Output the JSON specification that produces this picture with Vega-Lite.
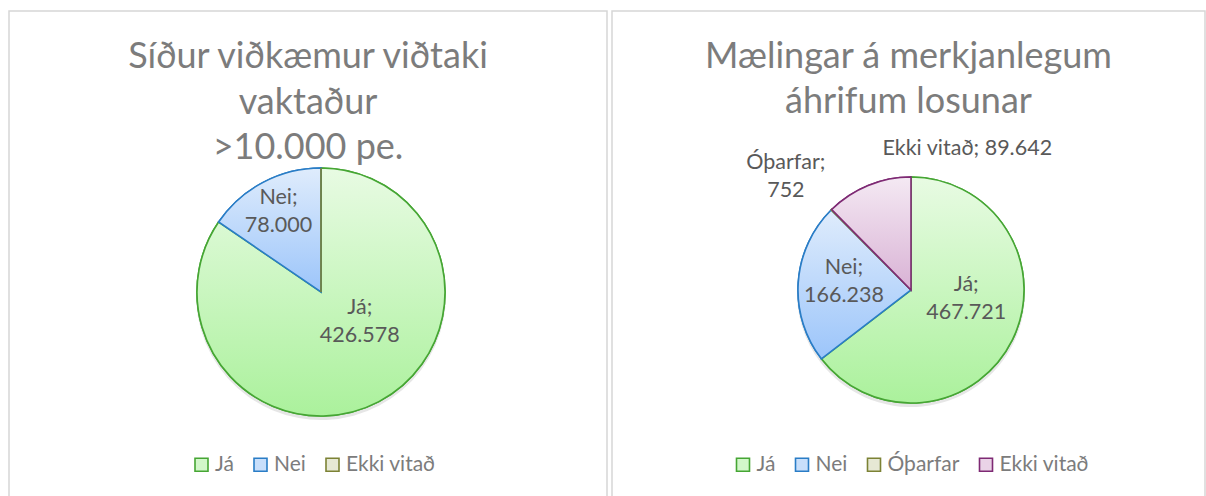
{
  "$schema": "https://vega.github.io/schema/vega-lite/v6.json",
  "padding": {"left": 8, "top": 10, "right": 0, "bottom": 0},
  "background": "#ffffff",
  "spacing": 5,
  "bounds": "flush",
  "config": {
    "view": {"stroke": "#d6d6d6", "strokeWidth": 1.5},
    "locale": {"number": {"decimal": ",", "thousands": ".", "grouping": [3], "currency": ["", " kr."]}},
    "legend": {"orient": "none", "legendY": 443, "direction": "horizontal", "title": null, "symbolType": "square", "symbolSize": 169, "symbolStrokeWidth": 1.6, "labelFont": "Lato", "labelFontSize": 21, "labelColor": "#7c7c7c", "labelOffset": 3, "columnPadding": 16, "padding": 0}
  },
  "resolve": {"scale": {"fill": "independent", "stroke": "independent", "theta": "independent"}, "legend": {"fill": "independent", "stroke": "independent"}},
  "hconcat": [
    {
      "width": 598,
      "height": 500,
      "view": {"stroke": "#d6d6d6", "strokeWidth": 1.5, "fill": "#ffffff"},
      "title": {"text": ["Síður viðkæmur viðtaki", "vaktaður", ">10.000 pe."], "anchor": "middle", "frame": "group", "offset": -184, "baseline": "alphabetic", "font": "Lato", "fontSize": 36, "fontWeight": "normal", "color": "#7c7c7c", "lineHeight": 45.5},
      "data": {"values": [
        {"k": "Já", "v": 426578},
        {"k": "Nei", "v": 78000},
        {"k": "Ekki vitað", "v": 0}
      ]},
      "transform": [
        {"window": [{"op": "row_number", "as": "i"}]},
        {"calculate": "datum.k === 'Ekki vitað' ? datum.k + '; ' + format(datum.v, ',') : [datum.k + ';', format(datum.v, ',')]", "as": "lab"}
      ],
      "layer": [
        {
          "mark": {"type": "arc", "outerRadius": 125, "xOffset": 13, "yOffset": 34, "fill": "#9a9a9a", "opacity": 0.25},
          "encoding": {
            "theta": {"field": "v", "type": "quantitative", "stack": true},
            "order": {"field": "i", "type": "quantitative"}
          }
        },
        {
          "mark": {"type": "arc", "outerRadius": 124, "xOffset": 13, "yOffset": 31, "strokeWidth": 1.6},
          "encoding": {
            "theta": {"field": "v", "type": "quantitative", "stack": true},
            "order": {"field": "i", "type": "quantitative"},
            "fill": {"field": "k", "type": "nominal",
              "scale": {"domain": ["Já", "Nei", "Ekki vitað"], "range": ["#d2f7ca", "#c8dffb", "#e6e8d4"]},
              "legend": {"legendX": 182}
            },
            "stroke": {"field": "k", "type": "nominal",
              "scale": {"domain": ["Já", "Nei", "Ekki vitað"], "range": ["#46a634", "#2a7dc6", "#7c8235"]},
              "legend": {"legendX": 182}
            }
          }
        },
        {
          "mark": {"type": "arc", "outerRadius": 124, "xOffset": 13, "yOffset": 31, "strokeWidth": 1.6},
          "encoding": {
            "theta": {"field": "v", "type": "quantitative", "stack": true},
            "order": {"field": "i", "type": "quantitative"},
            "fill": {
              "condition": [
                {"test": "datum.k === 'Já'", "value": {"gradient": "linear", "x1": 0, "y1": 0, "x2": 0, "y2": 1, "stops": [{"offset": 0, "color": "#e8fbe3"}, {"offset": 1, "color": "#abf19c"}]}},
                {"test": "datum.k === 'Nei'", "value": {"gradient": "linear", "x1": 0, "y1": 0, "x2": 0, "y2": 1, "stops": [{"offset": 0, "color": "#dfecfc"}, {"offset": 1, "color": "#9cc5fa"}]}}
              ],
              "value": {"gradient": "linear", "x1": 0, "y1": 0, "x2": 0, "y2": 1, "stops": [{"offset": 0, "color": "#eeefe2"}, {"offset": 1, "color": "#d8dbbd"}]}
            },
            "stroke": {"field": "k", "type": "nominal", "legend": null}
          }
        },
        {
          "mark": {"type": "text", "radius": 91, "thetaOffset": 0, "xOffset": 13, "yOffset": 31, "dy": -14, "font": "Lato", "fontSize": 21.5, "lineHeight": 28, "color": "#595959", "align": "center", "baseline": "middle"},
          "encoding": {
            "theta": {"field": "v", "type": "quantitative", "stack": true},
            "order": {"field": "i", "type": "quantitative"},
            "text": {"condition": {"test": "datum.k === 'Nei'", "field": "lab"}, "value": ""}
          }
        },
        {
          "mark": {"type": "text", "radius": 49, "thetaOffset": -0.429, "xOffset": 13, "yOffset": 31, "dy": -14, "font": "Lato", "fontSize": 21.5, "lineHeight": 28, "color": "#595959", "align": "center", "baseline": "middle"},
          "encoding": {
            "theta": {"field": "v", "type": "quantitative", "stack": true},
            "order": {"field": "i", "type": "quantitative"},
            "text": {"condition": {"test": "datum.k === 'Já'", "field": "lab"}, "value": ""}
          }
        }
      ]
    },
    {
      "width": 593,
      "height": 500,
      "view": {"stroke": "#d6d6d6", "strokeWidth": 1.5, "fill": "#ffffff"},
      "title": {"text": ["Mælingar á merkjanlegum", "áhrifum losunar"], "anchor": "middle", "frame": "group", "offset": -138, "baseline": "alphabetic", "font": "Lato", "fontSize": 36, "fontWeight": "normal", "color": "#7c7c7c", "lineHeight": 45.5},
      "data": {"values": [
        {"k": "Já", "v": 467721},
        {"k": "Nei", "v": 166238},
        {"k": "Óþarfar", "v": 752},
        {"k": "Ekki vitað", "v": 89642}
      ]},
      "transform": [
        {"window": [{"op": "row_number", "as": "i"}]},
        {"calculate": "datum.k === 'Ekki vitað' ? datum.k + '; ' + format(datum.v, ',') : [datum.k + ';', format(datum.v, ',')]", "as": "lab"}
      ],
      "layer": [
        {
          "mark": {"type": "arc", "outerRadius": 114, "xOffset": 2.5, "yOffset": 32, "fill": "#9a9a9a", "opacity": 0.25},
          "encoding": {
            "theta": {"field": "v", "type": "quantitative", "stack": true},
            "order": {"field": "i", "type": "quantitative"}
          }
        },
        {
          "mark": {"type": "arc", "outerRadius": 113, "xOffset": 2.5, "yOffset": 29, "strokeWidth": 1.6},
          "encoding": {
            "theta": {"field": "v", "type": "quantitative", "stack": true},
            "order": {"field": "i", "type": "quantitative"},
            "fill": {"field": "k", "type": "nominal",
              "scale": {"domain": ["Já", "Nei", "Óþarfar", "Ekki vitað"], "range": ["#d2f7ca", "#c8dffb", "#e6e8d4", "#ead3e7"]},
              "legend": {"legendX": 120.5}
            },
            "stroke": {"field": "k", "type": "nominal",
              "scale": {"domain": ["Já", "Nei", "Óþarfar", "Ekki vitað"], "range": ["#46a634", "#2a7dc6", "#7c8235", "#7e2a74"]},
              "legend": {"legendX": 120.5}
            }
          }
        },
        {
          "mark": {"type": "arc", "outerRadius": 113, "xOffset": 2.5, "yOffset": 29, "strokeWidth": 1.6},
          "encoding": {
            "theta": {"field": "v", "type": "quantitative", "stack": true},
            "order": {"field": "i", "type": "quantitative"},
            "fill": {
              "condition": [
                {"test": "datum.k === 'Já'", "value": {"gradient": "linear", "x1": 0, "y1": 0, "x2": 0, "y2": 1, "stops": [{"offset": 0, "color": "#e8fbe3"}, {"offset": 1, "color": "#abf19c"}]}},
                {"test": "datum.k === 'Nei'", "value": {"gradient": "linear", "x1": 0, "y1": 0, "x2": 0, "y2": 1, "stops": [{"offset": 0, "color": "#dfecfc"}, {"offset": 1, "color": "#9cc5fa"}]}},
                {"test": "datum.k === 'Ekki vitað'", "value": {"gradient": "linear", "x1": 0, "y1": 0, "x2": 0, "y2": 1, "stops": [{"offset": 0, "color": "#f4e9f3"}, {"offset": 1, "color": "#d9b2d5"}]}}
              ],
              "value": {"gradient": "linear", "x1": 0, "y1": 0, "x2": 0, "y2": 1, "stops": [{"offset": 0, "color": "#eeefe2"}, {"offset": 1, "color": "#d8dbbd"}]}
            },
            "stroke": {"field": "k", "type": "nominal", "legend": null}
          }
        },
        {
          "mark": {"type": "text", "radius": 56, "thetaOffset": -0.291, "xOffset": 2.5, "yOffset": 29, "dy": -14, "font": "Lato", "fontSize": 21.5, "lineHeight": 28, "color": "#595959", "align": "center", "baseline": "middle"},
          "encoding": {
            "theta": {"field": "v", "type": "quantitative", "stack": true},
            "order": {"field": "i", "type": "quantitative"},
            "text": {"condition": {"test": "datum.k === 'Já'", "field": "lab"}, "value": ""}
          }
        },
        {
          "mark": {"type": "text", "radius": 67.5, "thetaOffset": 0.052, "xOffset": 2.5, "yOffset": 29, "dy": -14, "font": "Lato", "fontSize": 21.5, "lineHeight": 28, "color": "#595959", "align": "center", "baseline": "middle"},
          "encoding": {
            "theta": {"field": "v", "type": "quantitative", "stack": true},
            "order": {"field": "i", "type": "quantitative"},
            "text": {"condition": {"test": "datum.k === 'Nei'", "field": "lab"}, "value": ""}
          }
        },
        {
          "mark": {"type": "text", "radius": 168.5, "thetaOffset": -0.056, "xOffset": 2.5, "yOffset": 29, "dy": -14, "font": "Lato", "fontSize": 21.5, "lineHeight": 28, "color": "#595959", "align": "center", "baseline": "middle"},
          "encoding": {
            "theta": {"field": "v", "type": "quantitative", "stack": true},
            "order": {"field": "i", "type": "quantitative"},
            "text": {"condition": {"test": "datum.k === 'Óþarfar'", "field": "lab"}, "value": ""}
          }
        },
        {
          "mark": {"type": "text", "radius": 152, "thetaOffset": 0.768, "xOffset": 2.5, "yOffset": 29, "font": "Lato", "fontSize": 21.5, "lineHeight": 28, "color": "#595959", "align": "center", "baseline": "middle"},
          "encoding": {
            "theta": {"field": "v", "type": "quantitative", "stack": true},
            "order": {"field": "i", "type": "quantitative"},
            "text": {"condition": {"test": "datum.k === 'Ekki vitað'", "field": "lab"}, "value": ""}
          }
        }
      ]
    }
  ]
}
